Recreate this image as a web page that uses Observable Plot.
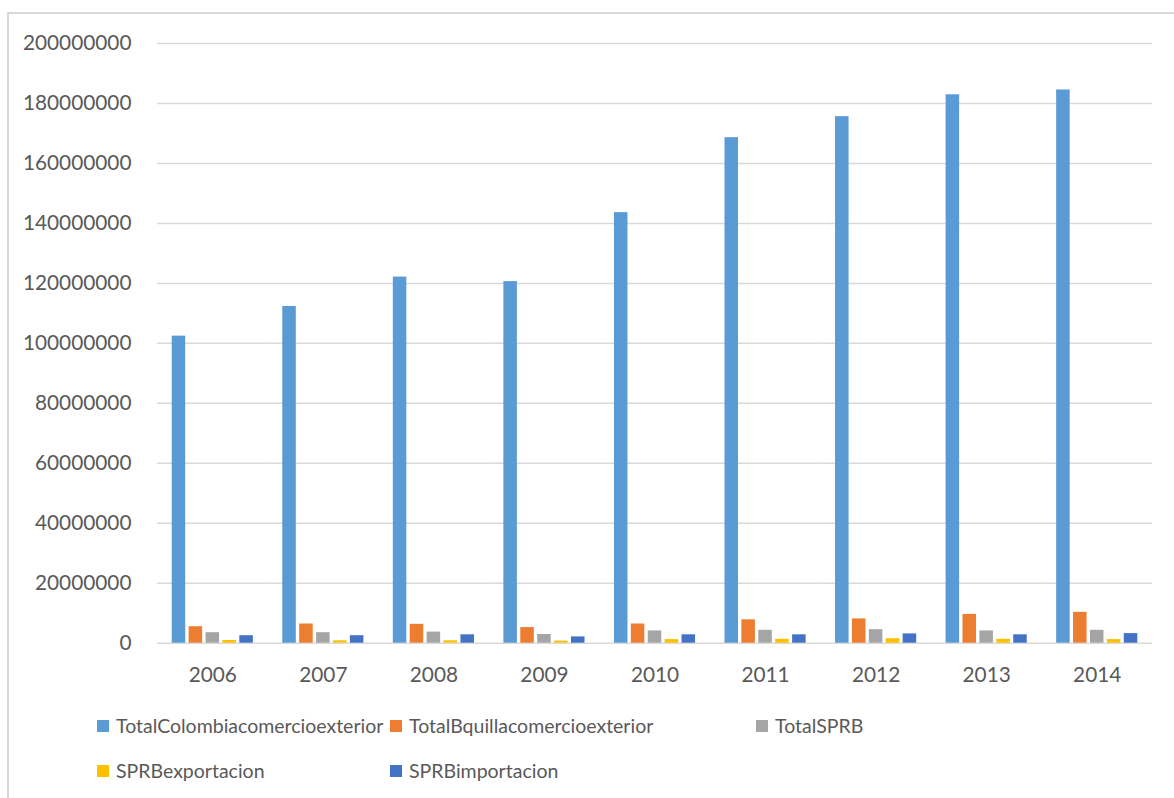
<!DOCTYPE html>
<html>
<head>
<meta charset="utf-8">
<script src="https://cdn.jsdelivr.net/npm/d3@7"></script>
<script src="https://cdn.jsdelivr.net/npm/@observablehq/plot@0.6"></script>
<style>
  html, body { margin: 0; padding: 0; background: #fff; overflow: hidden; width: 1174px; height: 798px; }
  #frame { position: absolute; left: 7px; top: 12px; width: 1300px; height: 900px; border: 2px solid #d9d9d9; box-sizing: border-box; }
  #chart { position: absolute; left: 0; top: 0; }
  #chart svg { display: block; }
  .leg { position: absolute; font-family: Lato, sans-serif; font-size: 19.5px; color: #595959; display: flex; align-items: center; white-space: nowrap; line-height: 1; }
  .leg .sw { width: 12px; height: 12px; margin-right: 7px; flex: none; }
</style>
</head>
<body>
<div id="frame"></div>
<div id="chart"></div>
<div id="legend"></div>
<script>
const years = ["2006", "2007", "2008", "2009", "2010", "2011", "2012", "2013", "2014"];
const seriesNames = ["TotalColombiacomercioexterior", "TotalBquillacomercioexterior", "TotalSPRB", "SPRBexportacion", "SPRBimportacion"];
const seriesColors = ["#5B9BD5", "#ED7D31", "#A5A5A5", "#FFC000", "#4472C4"];

const totalColombia = [102400000, 112300000, 122100000, 120600000, 143600000, 168600000, 175600000, 182900000, 184500000];
const totalBquilla  = [5500000, 6400000, 6300000, 5200000, 6400000, 7800000, 8100000, 9600000, 10300000];
const totalSPRB     = [3500000, 3500000, 3700000, 2900000, 4100000, 4300000, 4500000, 4100000, 4300000];
const sprbExport    = [900000, 800000, 800000, 700000, 1200000, 1300000, 1500000, 1300000, 1200000];
const sprbImport    = [2500000, 2500000, 2800000, 2100000, 2800000, 2800000, 3100000, 2800000, 3200000];

const yTicks = [0, 20000000, 40000000, 60000000, 80000000, 100000000, 120000000, 140000000, 160000000, 180000000, 200000000];

const seriesValues = [totalColombia, totalBquilla, totalSPRB, sprbExport, sprbImport];
const rows = [];
years.forEach((yr, i) => {
  seriesNames.forEach((s, j) => rows.push({year: yr, series: s, value: seriesValues[j][i]}));
});

const chart = Plot.plot({
  width: 1174,
  height: 690,
  marginLeft: 157,
  marginRight: 22,
  marginTop: 43,
  marginBottom: 47.3,
  style: {fontFamily: "Lato, sans-serif", fontSize: "20.8px", color: "#595959", background: "transparent"},
  fx: {domain: years, paddingInner: 0, paddingOuter: 0, round: false, label: null},
  x: {domain: seriesNames, paddingInner: 0.2, paddingOuter: 0.87, round: false, axis: null},
  y: {domain: [0, 200000000], label: null},
  color: {domain: seriesNames, range: seriesColors},
  marks: [
    Plot.gridY(yTicks, {stroke: "#d9d9d9", strokeOpacity: 1, strokeWidth: 1.5}),
    Plot.axisY(yTicks, {tickSize: 0, tickPadding: 26, tickFormat: d => String(d), label: null}),
    Plot.axisFx({anchor: "bottom", tickSize: 0, tickPadding: 24, label: null}),
    Plot.barY(rows, {fx: "year", x: "series", y: "value", fill: "series"})
  ]
});
document.getElementById("chart").appendChild(chart);

// legend
const legPos = [[97, 726], [390, 726], [756, 726], [97, 771], [390, 771]];
const legend = document.getElementById("legend");
seriesNames.forEach((s, j) => {
  const d = document.createElement("div");
  d.className = "leg";
  d.style.left = legPos[j][0] + "px";
  d.style.top = (legPos[j][1] - 11) + "px";
  d.style.height = "22px";
  d.innerHTML = `<span class="sw" style="background:${seriesColors[j]}"></span><span>${s}</span>`;
  legend.appendChild(d);
});
</script>
</body>
</html>
